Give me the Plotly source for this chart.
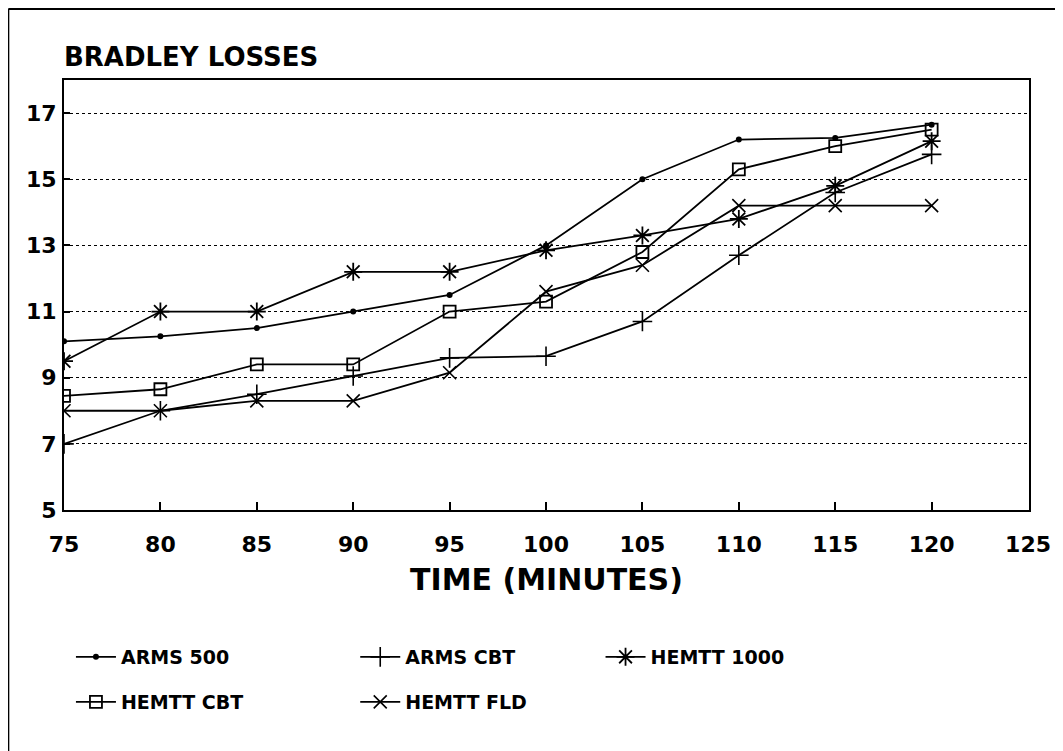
import plotly.graph_objects as go

time_min = [75, 80, 85, 90, 95, 100, 105, 110, 115, 120]
arms_500 = [10.1, 10.25, 10.5, 11.0, 11.5, 13.0, 15.0, 16.2, 16.25, 16.65]
arms_cbt = [7.0, 8.0, 8.5, 9.05, 9.6, 9.65, 10.7, 12.7, 14.6, 15.75]
hemtt_1000 = [9.5, 11.0, 11.0, 12.2, 12.2, 12.85, 13.3, 13.8, 14.8, 16.15]
hemtt_cbt = [8.45, 8.65, 9.4, 9.4, 11.0, 11.3, 12.8, 15.3, 16.0, 16.5]
hemtt_fld = [8.0, 8.0, 8.3, 8.3, 9.15, 11.6, 12.4, 14.2, 14.2, 14.2]

x_ticks = [75, 80, 85, 90, 95, 100, 105, 110, 115, 120, 125]
y_ticks = [5, 7, 9, 11, 13, 15, 17]

series = [
    ("ARMS 500", arms_500, dict(symbol="circle", size=6, color="black")),
    ("ARMS CBT", arms_cbt, dict(symbol="cross-thin-open", size=14, color="black",
                                line=dict(width=1.6, color="black"))),
    ("HEMTT 1000", hemtt_1000, dict(symbol="asterisk-open", size=15, color="black",
                                    line=dict(width=1.8, color="black"))),
    ("HEMTT CBT", hemtt_cbt, dict(symbol="square-open", size=12, color="black",
                                  line=dict(width=1.8, color="black"))),
    ("HEMTT FLD", hemtt_fld, dict(symbol="x-thin-open", size=13, color="black",
                                  line=dict(width=1.6, color="black"))),
]

FONT = "DejaVu Sans"
legend_ids = ["legend", "legend2", "legend3", "legend4", "legend5"]
# legend positions (paper coords)
leg_pos = [(0.0072, -0.2977), (0.3018, -0.2977), (0.556, -0.2977),
           (0.0072, -0.4023), (0.3018, -0.4023)]

fig = go.Figure()
for (name, vals, mk), lid in zip(series, legend_ids):
    fig.add_trace(go.Scatter(
        x=time_min, y=vals, name=name, mode="lines+markers",
        line=dict(color="black", width=1.8), marker=mk, legend=lid,
    ))

leg_common = dict(
    orientation="h", xanchor="left", yanchor="top",
    font=dict(family=FONT, size=19, weight="bold", color="black"),
    bgcolor="rgba(0,0,0,0)", itemwidth=40, borderwidth=0,
)
legends = {}
for lid, (lx, ly) in zip(legend_ids, leg_pos):
    legends[lid] = dict(x=lx, y=ly, **leg_common)

fig.update_layout(
    width=1055, height=743,
    margin=dict(l=56, r=28, t=72, b=241),
    paper_bgcolor="white", plot_bgcolor="white",
    font=dict(family=FONT, color="black"),
    showlegend=True,
    annotations=[dict(
        text="BRADLEY LOSSES", xref="paper", yref="paper", x=-0.002, y=1.053,
        xanchor="left", yanchor="middle", showarrow=False,
        font=dict(family=FONT, size=26, weight="bold", color="black"),
    )],
    shapes=[
        dict(type="line", xref="paper", yref="paper", x0=-0.0577, x1=-0.0577,
             y0=1.165, y1=-0.6, line=dict(color="black", width=2)),
        dict(type="line", xref="paper", yref="paper", x0=-0.0577, x1=1.05,
             y0=1.165, y1=1.165, line=dict(color="black", width=2)),
    ],
    **legends,
)

fig.update_xaxes(
    range=[75, 125.05], tickvals=x_ticks, ticktext=[str(v) for v in x_ticks],
    showgrid=False, zeroline=False,
    showline=True, linecolor="black", linewidth=2, mirror=True,
    ticks="inside", ticklen=8, tickwidth=1.5, tickcolor="black",
    ticklabelstandoff=14,
    tickfont=dict(family=FONT, size=22, weight="bold", color="black"),
    title=dict(text="TIME (MINUTES)", standoff=13,
               font=dict(family=FONT, size=30, weight="bold", color="black")),
)
fig.update_yaxes(
    range=[5, 18], tickvals=y_ticks, ticktext=[str(v) for v in y_ticks],
    showgrid=True, gridcolor="black", gridwidth=1.3, griddash="dot",
    zeroline=False,
    showline=True, linecolor="black", linewidth=2, mirror=True,
    ticks="inside", ticklen=6, tickwidth=1.5, tickcolor="black",
    ticklabelstandoff=1,
    tickfont=dict(family=FONT, size=22, weight="bold", color="black"),
)

fig.write_html("out.html")
